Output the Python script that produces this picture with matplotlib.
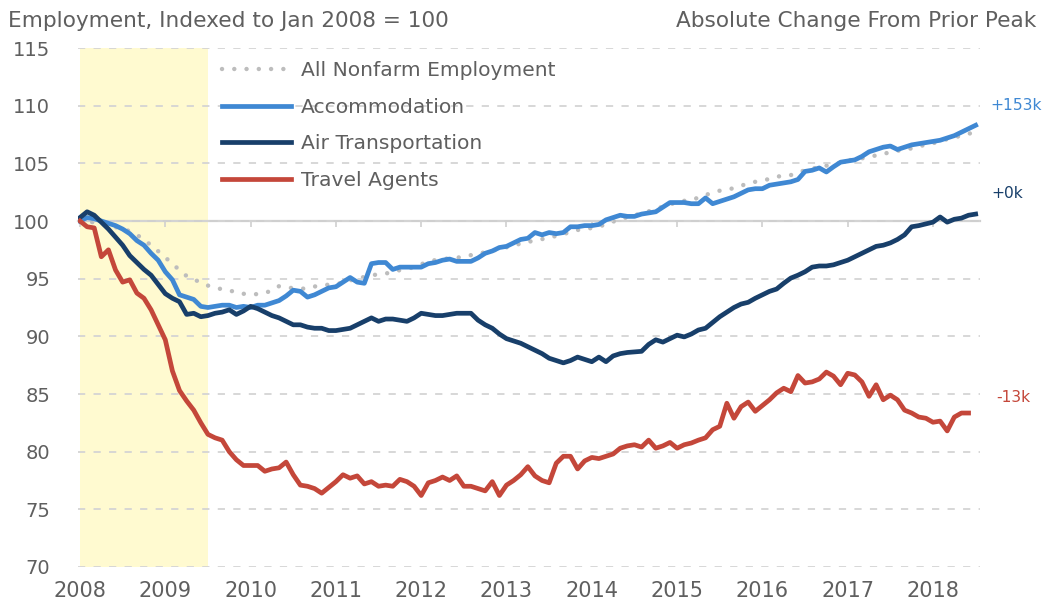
import numpy as np
import pandas as pd
import matplotlib
matplotlib.use("Agg")
import matplotlib.pyplot as plt
import matplotlib.transforms as mtransforms

# ---------------- data (index, Jan 2008 = 100), monthly Jan 2008 - Jul 2018 ----------------
months = pd.date_range("2008-01-01", "2018-07-01", freq="MS")

nonfarm = [
    100.0, 99.94, 99.88, 99.73, 99.59, 99.47, 99.32, 99.12, 98.78, 98.43, 97.87, 97.38,
    96.83, 96.32, 95.72, 95.23, 94.97, 94.63, 94.40, 94.24, 94.07, 93.93, 93.90, 93.69,
    93.68, 93.65, 93.78, 93.95, 94.35, 94.24, 94.18, 94.14, 94.13, 94.32, 94.42, 94.48,
    94.51, 94.66, 94.84, 95.07, 95.14, 95.31, 95.36, 95.44, 95.59, 95.74, 95.84, 96.00,
    96.26, 96.44, 96.62, 96.69, 96.77, 96.81, 96.92, 97.04, 97.17, 97.29, 97.41, 97.59,
    97.72, 97.92, 98.02, 98.17, 98.33, 98.43, 98.54, 98.71, 98.87, 99.03, 99.22, 99.28,
    99.40, 99.52, 99.71, 99.95, 100.11, 100.35, 100.51, 100.64, 100.84, 101.03, 101.25, 101.45,
    101.59, 101.75, 101.81, 102.03, 102.27, 102.42, 102.63, 102.74, 102.84, 103.07, 103.23, 103.40,
    103.49, 103.66, 103.82, 103.97, 103.98, 104.20, 104.40, 104.52, 104.71, 104.80, 104.94, 105.05,
    105.22, 105.38, 105.43, 105.58, 105.68, 105.83, 105.95, 106.10, 106.12, 106.31, 106.48, 106.61,
    106.73, 106.96, 107.09, 107.23, 107.42, 107.57, 107.69,
]

accommodation = [
    100.0, 100.3, 100.2, 100.0, 99.8, 99.6, 99.3, 98.9, 98.3, 97.9, 97.2, 96.6,
    95.6, 94.9, 93.6, 93.4, 93.2, 92.6, 92.5, 92.6, 92.7, 92.7, 92.5, 92.6,
    92.5, 92.7, 92.7, 92.9, 93.1, 93.5, 94.0, 93.9, 93.4, 93.6, 93.9, 94.2,
    94.3, 94.7, 95.1, 94.7, 94.6, 96.3, 96.4, 96.4, 95.8, 96.0, 96.0, 96.0,
    96.0, 96.3, 96.4, 96.6, 96.7, 96.5, 96.5, 96.5, 96.8, 97.2, 97.4, 97.7,
    97.8, 98.1, 98.4, 98.5, 99.0, 98.8, 99.0, 98.9, 99.0, 99.5, 99.5, 99.6,
    99.6, 99.7, 100.1, 100.3, 100.5, 100.4, 100.4, 100.6, 100.7, 100.8, 101.2, 101.6,
    101.6, 101.6, 101.5, 101.5, 102.0, 101.5, 101.7, 101.9, 102.1, 102.4, 102.7, 102.8,
    102.8, 103.1, 103.2, 103.3, 103.4, 103.6, 104.3, 104.4, 104.6, 104.25, 104.7, 105.1,
    105.2, 105.3, 105.6, 106.0, 106.2, 106.4, 106.5, 106.2, 106.4, 106.6, 106.7, 106.8,
    106.9, 107.0, 107.2, 107.4, 107.7, 108.0, 108.3,
]

air_transportation = [
    100.3, 100.8, 100.5, 99.9, 99.3, 98.6, 97.9, 97.0, 96.4, 95.8, 95.3, 94.5,
    93.7, 93.3, 93.0, 91.9, 92.0, 91.7, 91.8, 92.0, 92.1, 92.3, 91.9, 92.2,
    92.6, 92.4, 92.1, 91.8, 91.6, 91.3, 91.0, 91.0, 90.8, 90.7, 90.7, 90.5,
    90.5, 90.6, 90.7, 91.0, 91.3, 91.6, 91.3, 91.5, 91.5, 91.4, 91.3, 91.6,
    92.0, 91.9, 91.8, 91.8, 91.9, 92.0, 92.0, 92.0, 91.4, 91.0, 90.7, 90.2,
    89.8, 89.6, 89.4, 89.1, 88.8, 88.5, 88.1, 87.9, 87.7, 87.9, 88.2, 88.0,
    87.8, 88.2, 87.8, 88.3, 88.5, 88.6, 88.65, 88.7, 89.3, 89.7, 89.5, 89.8,
    90.1, 89.95, 90.2, 90.55, 90.7, 91.2, 91.7, 92.1, 92.5, 92.8, 92.95, 93.3,
    93.6, 93.9, 94.1, 94.6, 95.05, 95.3, 95.6, 96.0, 96.1, 96.1, 96.2, 96.4,
    96.6, 96.9, 97.2, 97.5, 97.8, 97.9, 98.1, 98.4, 98.8, 99.5, 99.6, 99.75,
    99.9, 100.35, 99.9, 100.15, 100.25, 100.5, 100.6,
]

travel_agents = [
    100.0, 99.5, 99.4, 96.9, 97.5, 95.75, 94.7, 94.9, 93.75, 93.3, 92.3, 91.0,
    89.7, 87.0, 85.3, 84.4, 83.6, 82.5, 81.5, 81.2, 81.0, 80.0, 79.3, 78.8,
    78.8, 78.8, 78.3, 78.5, 78.6, 79.1, 78.0, 77.1, 77.0, 76.8, 76.4, 76.9,
    77.4, 78.0, 77.7, 77.9, 77.2, 77.4, 77.0, 77.1, 77.0, 77.6, 77.4, 77.0,
    76.2, 77.3, 77.5, 77.8, 77.5, 77.9, 77.0, 77.0, 76.8, 76.6, 77.4, 76.2,
    77.1, 77.5, 78.0, 78.7, 77.9, 77.5, 77.3, 79.0, 79.6, 79.6, 78.5, 79.2,
    79.5, 79.4, 79.6, 79.8, 80.3, 80.5, 80.6, 80.4, 81.0, 80.3, 80.5, 80.8,
    80.3, 80.6, 80.75, 81.0, 81.2, 81.9, 82.2, 84.2, 82.9, 83.9, 84.3, 83.5,
    84.0, 84.5, 85.1, 85.5, 85.2, 86.6, 85.95, 86.05, 86.3, 86.9, 86.55, 85.8,
    86.8, 86.65, 86.05, 84.8, 85.8, 84.5, 84.9, 84.5, 83.6, 83.35, 83.0, 82.9,
    82.55, 82.65, 81.8, 83.0, 83.35, 83.35, np.nan,
]

series_names = ["All Nonfarm Employment", "Accommodation", "Air Transportation", "Travel Agents"]
change_labels = ["+153k", "+0k", "-13k"]
change_label_y = [110.0, 102.4, 84.7]
year_ticks = list(range(2008, 2019))
y_ticks = list(range(70, 116, 5))
recession = (2008.0, 2009.5)

# ---------------- style ----------------
C_NONFARM = "#BDBDBD"
C_ACCOM = "#3F88D3"
C_AIR = "#183F6A"
C_TRAVEL = "#C4473A"
C_TEXT = "#5F5F5F"
C_GRID = "#D4D4D4"
C_SHADE = "#FFFAD0"

plt.rcParams["font.family"] = ["DejaVu Sans"]

W, H = 1043, 605
fig = plt.figure(figsize=(W / 100, H / 100), dpi=100)
ax_l, ax_r, ax_t, ax_b = 78, 980, 48, 567
ax = fig.add_axes([ax_l / W, 1 - ax_b / H, (ax_r - ax_l) / W, (ax_b - ax_t) / H])

t = months.year + (months.month - 1) / 12.0

ax.axvspan(*recession, color=C_SHADE, lw=0, zorder=0)

ax.plot(t, nonfarm, color=C_NONFARM, lw=3.2, linestyle=(0, (0.01, 2.75)),
        dash_capstyle="round", label=series_names[0], zorder=2)
ax.plot(t, accommodation, color=C_ACCOM, lw=3.4, label=series_names[1], zorder=3,
        solid_joinstyle="round")
ax.plot(t, air_transportation, color=C_AIR, lw=3.4, label=series_names[2], zorder=4,
        solid_joinstyle="round")
ax.plot(t, travel_agents, color=C_TRAVEL, lw=3.4, label=series_names[3], zorder=5,
        solid_joinstyle="round")

ax.set_xlim(2008 - 2 / 85.3, 2008 + (ax_r - 80) / 85.3)
ax.set_ylim(70, 115)

# grid
ax.set_yticks(y_ticks)
ax.yaxis.grid(True, color=C_GRID, linestyle=(0, (4, 4.6)), linewidth=1.3, zorder=1)
ax.set_axisbelow(False)

# spines
for s in ["top", "right", "left"]:
    ax.spines[s].set_visible(False)
ax.spines["bottom"].set_position(("data", 100))
ax.spines["bottom"].set_color("#CFCFCF")
ax.spines["bottom"].set_linewidth(1.6)
ax.spines["bottom"].set_zorder(1.5)
ax.set_xticks(year_ticks)
ax.tick_params(axis="x", direction="out", length=4, width=1.2, color="#CFCFCF",
               labelbottom=False)
ax.tick_params(axis="y", length=0, pad=20, labelsize=14, labelcolor=C_TEXT)

sec = ax.secondary_xaxis(0)
sec.set_xticks(year_ticks)
sec.spines["bottom"].set_visible(False)
sec.tick_params(axis="x", length=0, pad=10, labelsize=15, labelcolor=C_TEXT)

# legend
leg = ax.legend(loc="upper left",
                bbox_to_anchor=((222 - ax_l) / (ax_r - ax_l), 1 - (61 - ax_t) / (ax_b - ax_t)),
                frameon=False, fontsize=14.6, handlelength=3.4, handletextpad=0.5,
                labelspacing=0.87, borderaxespad=0, borderpad=0)
for txt in leg.get_texts():
    txt.set_color(C_TEXT)

# right-side change labels
trans = mtransforms.blended_transform_factory(ax.transAxes, ax.transData)
for lab, yv, col, dx in zip(change_labels, change_label_y, [C_ACCOM, C_AIR, C_TRAVEL],
                            [990, 991, 996]):
    ax.text((dx - ax_l) / (ax_r - ax_l), yv, lab, transform=trans, color=col,
            fontsize=11.2, ha="left", va="center")

# titles
fig.text(8 / W, 1 - 21 / H, "Employment, Indexed to Jan 2008 = 100", fontsize=15.6,
         color=C_TEXT, ha="left", va="center")
fig.text(1036 / W, 1 - 21 / H, "Absolute Change From Prior Peak", fontsize=15.6,
         color=C_TEXT, ha="right", va="center")

fig.savefig("out.png", dpi=100, facecolor="white")
